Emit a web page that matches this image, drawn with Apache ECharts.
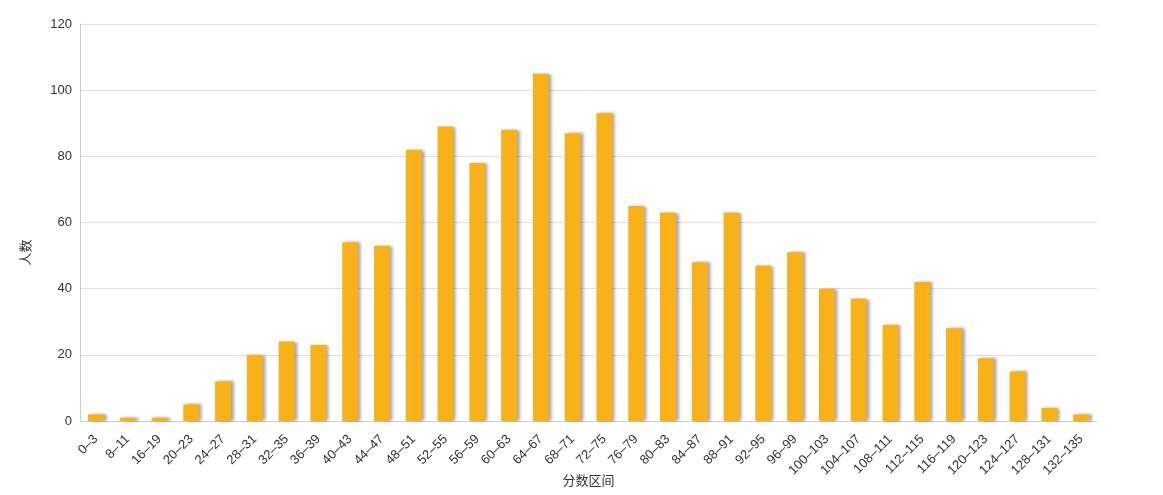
<!DOCTYPE html>
<html>
<head>
<meta charset="utf-8">
<script src="https://cdn.jsdelivr.net/npm/echarts@6/dist/echarts.min.js"></script>
<style>html,body{margin:0;padding:0;background:#fff}#c{width:1163px;height:495px}</style>
</head>
<body>
<div id="c"></div>
<script>
var categories = ['0–3','8–11','16–19','20–23','24–27','28–31','32–35','36–39','40–43','44–47','48–51','52–55','56–59','60–63','64–67','68–71','72–75','76–79','80–83','84–87','88–91','92–95','96–99','100–103','104–107','108–111','112–115','116–119','120–123','124–127','128–131','132–135'];
var counts = [2,1,1,5,12,20,24,23,54,53,82,89,78,88,105,87,93,65,63,48,63,47,51,40,37,29,42,28,19,15,4,2];
var yTicks = {min:0, max:120, interval:20};

var chart = echarts.init(document.getElementById('c'));
chart.setOption({
  animation:false,
  textStyle:{fontFamily:'Arial, "Liberation Sans", "Noto Sans CJK SC", sans-serif'},
  grid:{left:80, right:66, top:24, bottom:74, containLabel:false, outerBoundsMode:'none'},
  xAxis:{
    type:'category', data:categories,
    name:'分数区间', nameLocation:'middle', nameGap:54, nameMoveOverlap:false,
    nameTextStyle:{color:'#333', fontSize:13},
    axisLine:{lineStyle:{color:'#ccc'}},
    axisTick:{show:false},
    axisLabel:{rotate:45, interval:0, color:'#333', fontSize:13, margin:16}
  },
  yAxis:{
    type:'value', min:yTicks.min, max:yTicks.max, interval:yTicks.interval,
    name:'人数', nameLocation:'middle', nameGap:47, nameRotate:90, nameMoveOverlap:false,
    nameTextStyle:{color:'#333', fontSize:13, padding:[0,60,0,0]},
    axisLine:{show:true, lineStyle:{color:'#ccc'}},
    axisTick:{show:false},
    axisLabel:{color:'#333', fontSize:13, margin:8},
    splitLine:{lineStyle:{color:'#e0e0e0'}}
  },
  series:[{
    type:'bar', data:counts, barWidth:'50%',
    itemStyle:{color:'#F9B11A', shadowColor:'rgba(0,0,0,0.35)', shadowBlur:3, shadowOffsetX:3, shadowOffsetY:0}
  }]
});
</script>
</body>
</html>
